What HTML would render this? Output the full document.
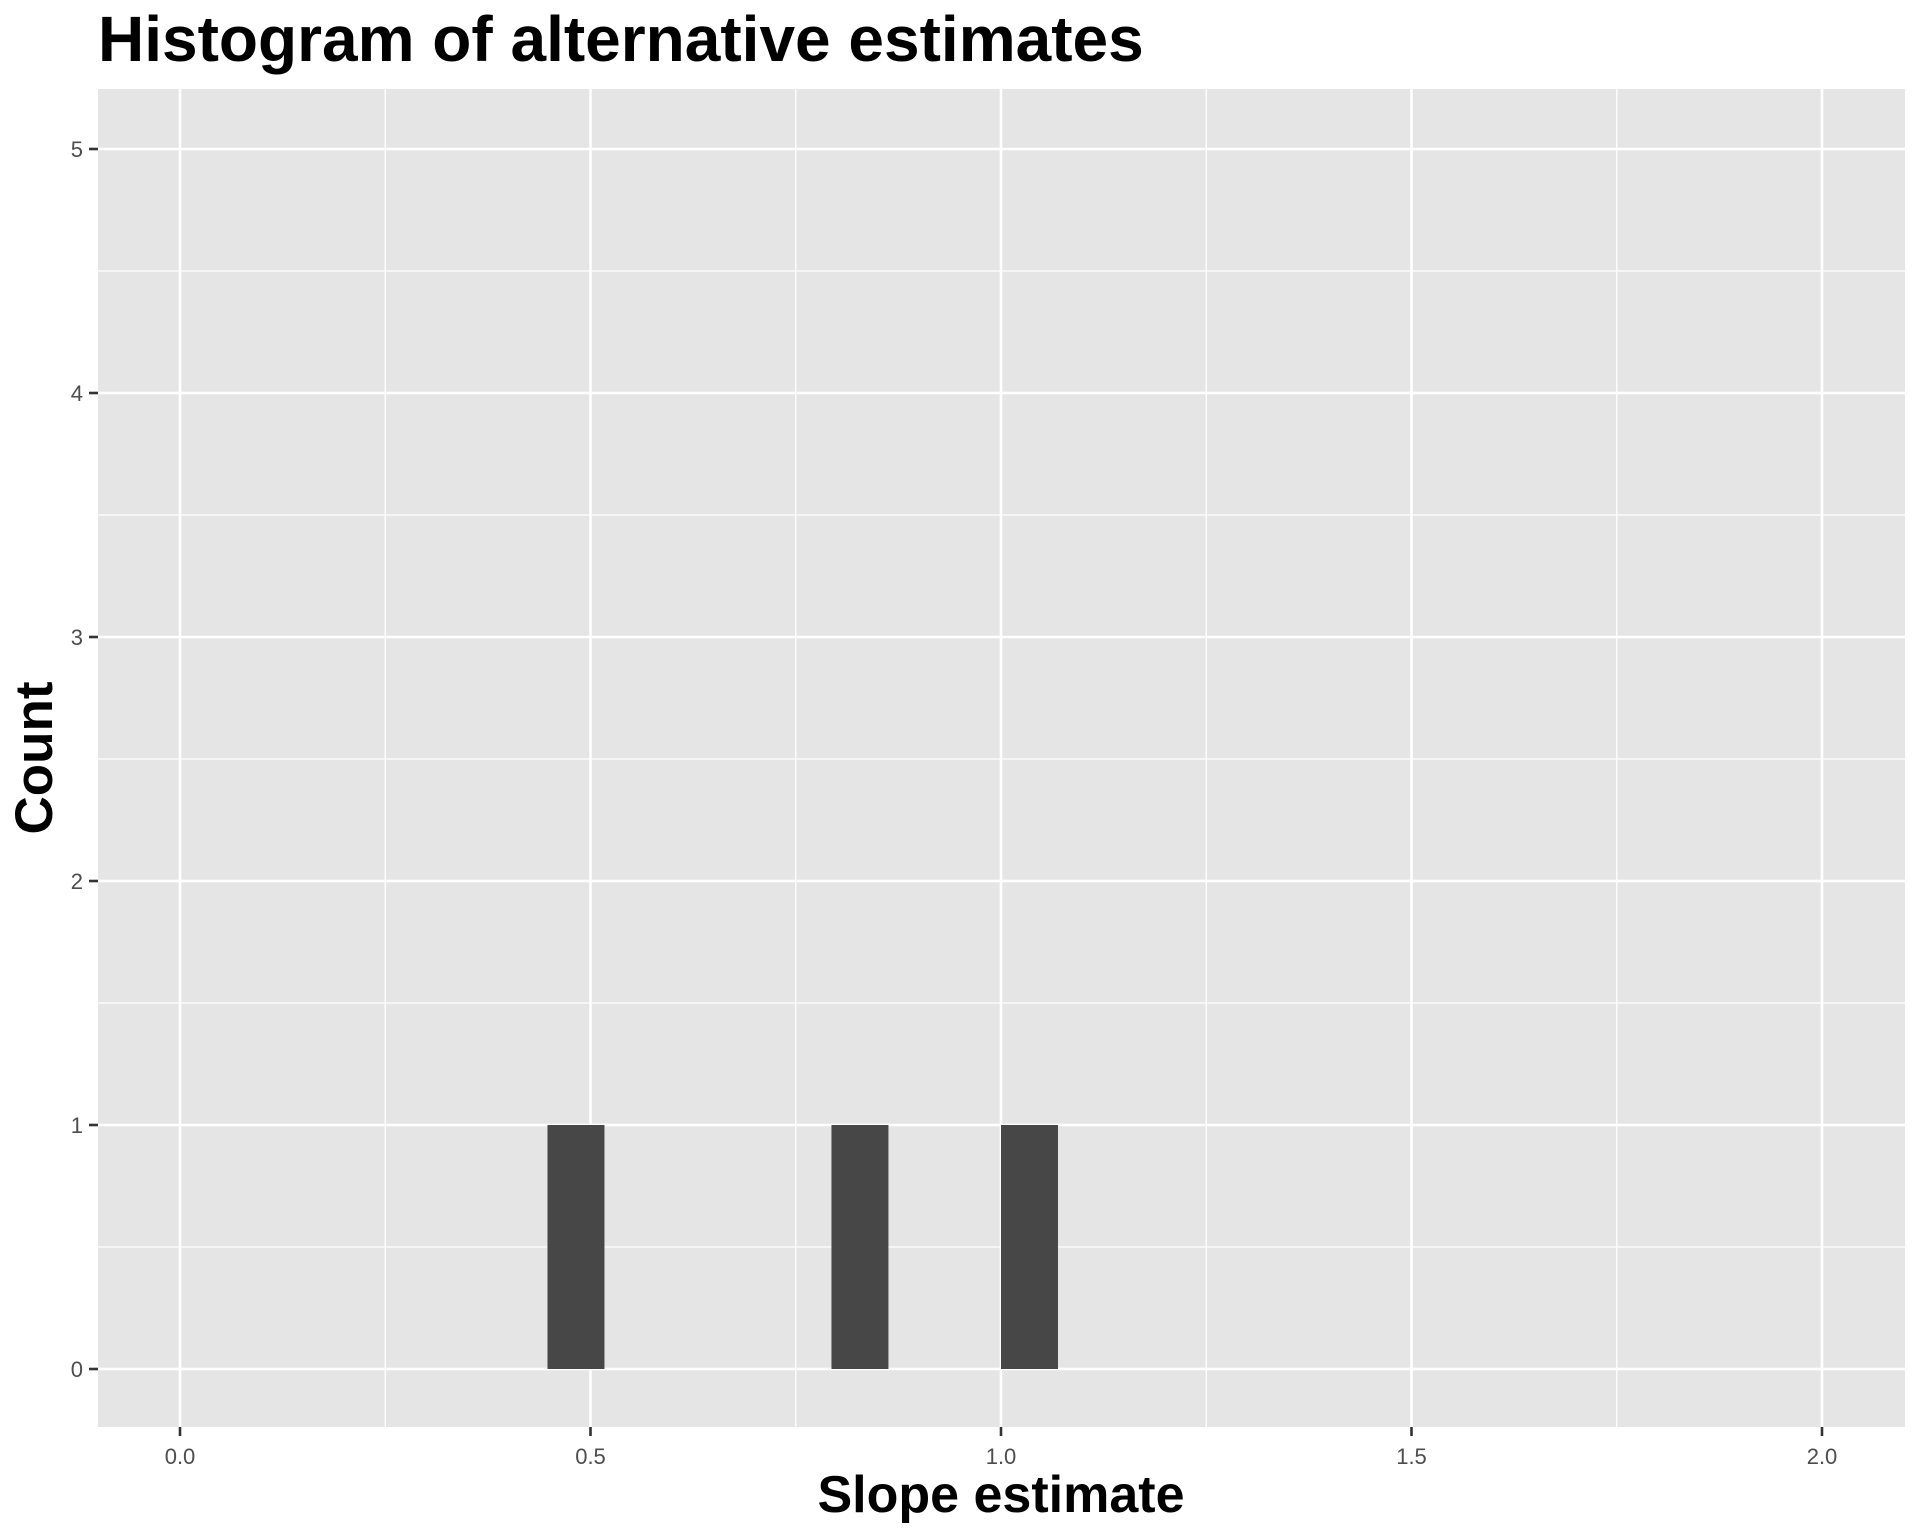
<!DOCTYPE html>
<html><head><meta charset="utf-8"><style>
html,body{margin:0;padding:0;background:#fff}
svg{display:block}
text{font-family:"Liberation Sans",Arial,sans-serif}
</style></head><body>
<svg id="chart" width="1920" height="1536" viewBox="0 0 1920 1536">
<text x="98" y="61" font-size="64" font-weight="bold" fill="#000">Histogram of alternative estimates</text>
<rect x="98" y="89" width="1807" height="1338" fill="#e5e5e5"/>
<g id="grid"></g>
<g id="bars"></g>
<g id="axes"></g>
<text x="1001" y="1512" font-size="52" font-weight="bold" text-anchor="middle" fill="#000">Slope estimate</text>
<text transform="translate(52,758) rotate(-90)" font-size="53" font-weight="bold" text-anchor="middle" fill="#000">Count</text>
</svg>
<script>
const binStarts = [0.4476, 0.7935, 1.0];
const counts = [1, 1, 1];
const binWidth = 0.0694;
const xTicks = [0, 0.5, 1.0, 1.5, 2.0];
const xTickLabels = ["0.0", "0.5", "1.0", "1.5", "2.0"];
const yTicks = [0, 1, 2, 3, 4, 5];
const yTickLabels = ["0", "1", "2", "3", "4", "5"];

const NS = "http://www.w3.org/2000/svg";
const px0 = 98, px1 = 1905, py0 = 89, py1 = 1427;
function xs(v){ return 180 + v * 821; }
function ys(v){ return 1369 - v * 244; }
function mk(tag, attrs, parent){
  const e = document.createElementNS(NS, tag);
  for (const k in attrs) e.setAttribute(k, attrs[k]);
  parent.appendChild(e);
  return e;
}
const grid = document.getElementById('grid');
const bars = document.getElementById('bars');
const axes = document.getElementById('axes');

for (let i = 0; i < xTicks.length - 1; i++) {
  const m = (xTicks[i] + xTicks[i+1]) / 2;
  const l = mk('line', {x1: xs(m), x2: xs(m), y1: py0, y2: py1, stroke: '#fff', 'stroke-width': 1.3}, grid);
  
  
}
for (let i = 0; i < yTicks.length - 1; i++) {
  const m = (yTicks[i] + yTicks[i+1]) / 2;
  const l = mk('line', {x1: px0, x2: px1, y1: ys(m), y2: ys(m), stroke: '#fff', 'stroke-width': 1.3}, grid);
  
  
}
xTicks.forEach((t, i) => {
  const l = mk('line', {x1: xs(t), x2: xs(t), y1: py0, y2: py1, stroke: '#fff', 'stroke-width': 2.6}, grid);
  
  
  const tk = mk('line', {x1: xs(t), x2: xs(t), y1: py1, y2: py1 + 9, stroke: '#333', 'stroke-width': 2.6}, axes);
  
  
  const tx = mk('text', {x: xs(t), y: py1 + 37, 'font-size': 22, 'text-anchor': 'middle', fill: '#4d4d4d'}, axes);
  tx.textContent = xTickLabels[i];
  
  
});
yTicks.forEach((t, i) => {
  const l = mk('line', {x1: px0, x2: px1, y1: ys(t), y2: ys(t), stroke: '#fff', 'stroke-width': 2.6}, grid);
  
  
  const tk = mk('line', {x1: px0 - 9, x2: px0, y1: ys(t), y2: ys(t), stroke: '#333', 'stroke-width': 2.6}, axes);
  
  
  const tx = mk('text', {x: px0 - 15, y: ys(t) + 8, 'font-size': 22, 'text-anchor': 'end', fill: '#4d4d4d'}, axes);
  tx.textContent = yTickLabels[i];
  
  
});
binStarts.forEach((b, i) => {
  const x = xs(b), w = xs(b + binWidth) - xs(b);
  const r = mk('rect', {x: x, y: ys(counts[i]), width: w, height: ys(0) - ys(counts[i]), fill: '#474747'}, bars);
  
  
});
</script>
</body></html>
